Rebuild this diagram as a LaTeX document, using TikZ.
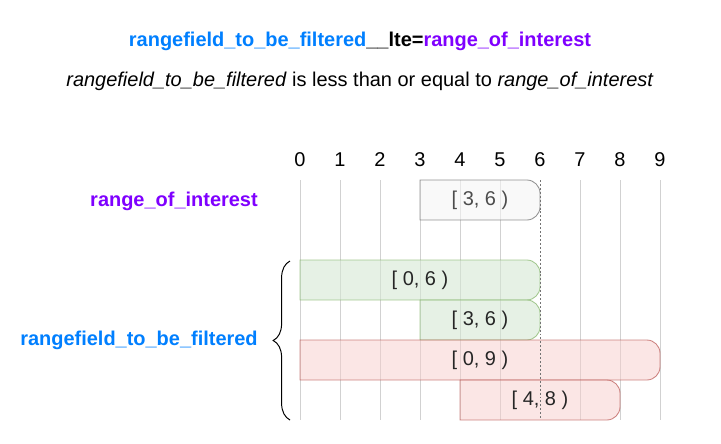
\documentclass[tikz,border=0pt]{standalone}
\usepackage{fontspec}
\setmainfont{Liberation Sans}
\usetikzlibrary{decorations.pathreplacing}
\definecolor{fieldblue}{HTML}{007FFF}
\definecolor{roipurple}{HTML}{7F00FF}
\definecolor{greenfill}{HTML}{D5E8D4}
\definecolor{greenline}{HTML}{82B366}
\definecolor{redfill}{HTML}{F8CECC}
\definecolor{redline}{HTML}{B85450}
\definecolor{grayfill}{HTML}{F5F5F5}
\definecolor{grayline}{HTML}{666666}
\tikzset{
  gridline/.style={draw=black!18,line width=0.6pt},
  greenbar/.style={fill=greenfill,draw=greenline,fill opacity=0.6,draw opacity=0.7,line width=0.6pt},
  redbar/.style={fill=redfill,draw=redline,fill opacity=0.5,draw opacity=0.7,line width=0.6pt},
  graybar/.style={fill=grayfill,draw=grayline,fill opacity=0.6,draw opacity=0.7,line width=0.6pt},
  barlabel/.style={text=black!85},
  tick/.style={text=black}
}
\newcommand{\rbar}[4]{\draw[#1] (#2,#4) -- (#2,#4+1) -- (#3-0.33,#4+1) arc[start angle=90,end angle=0,radius=0.33] -- (#3,#4+0.33) arc[start angle=0,end angle=-90,radius=0.33] -- cycle;}
\begin{document}
\begin{tikzpicture}[font=\fontsize{14.2pt}{17pt}\selectfont]
\useasboundingbox (-7.5,-0.575) rectangle (10.525,10.5);
\node (title) at (1.5,9.475) {\bfseries\textcolor{fieldblue}{rangefield\_to\_be\_filtered}\_\_lte=\textcolor{roipurple}{range\_of\_interest}};
\node (subtitle) at (1.5,8.475) {\textit{rangefield\_to\_be\_filtered} is less than or equal to \textit{range\_of\_interest}};
\node[tick] (n0) at (0,6.5) {0};
\node[tick] (n1) at (1,6.5) {1};
\node[tick] (n2) at (2,6.5) {2};
\node[tick] (n3) at (3,6.5) {3};
\node[tick] (n4) at (4,6.5) {4};
\node[tick] (n5) at (5,6.5) {5};
\node[tick] (n6) at (6,6.5) {6};
\node[tick] (n7) at (7,6.5) {7};
\node[tick] (n8) at (8,6.5) {8};
\node[tick] (n9) at (9,6.5) {9};
\draw[gridline] (0,6) -- (0,0);
\draw[gridline] (1,6) -- (1,0);
\draw[gridline] (2,6) -- (2,0);
\draw[gridline] (3,6) -- (3,0);
\draw[gridline] (4,6) -- (4,0);
\draw[gridline] (5,6) -- (5,0);
\draw[gridline] (7,6) -- (7,0);
\draw[gridline] (8,6) -- (8,0);
\draw[gridline] (9,6) -- (9,0);
\rbar{graybar}{3}{6}{5}
\rbar{greenbar}{0}{6}{3}
\rbar{greenbar}{3}{6}{2}
\rbar{redbar}{0}{9}{1}
\rbar{redbar}{4}{8}{0}
\draw[black!55,line width=0.7pt,dash pattern=on 1.4pt off 1.4pt] (6,6) -- (6,0);
\node[barlabel,text=black!70] (roi) at (4.5,5.5) {[ 3, 6 )};
\node[barlabel] (f1) at (3,3.5) {[ 0, 6 )};
\node[barlabel] (f2) at (4.5,2.5) {[ 3, 6 )};
\node[barlabel] (f3) at (4.5,1.5) {[ 0, 9 )};
\node[barlabel] (f4) at (6,0.5) {[ 4, 8 )};
\node[text=roipurple,font=\fontsize{14.2pt}{17pt}\selectfont\bfseries] (roilabel) at (-3.15,5.475) {range\_of\_interest};
\node[text=fieldblue,font=\fontsize{14.2pt}{17pt}\selectfont\bfseries] (fieldlabel) at (-4.025,2) {rangefield\_to\_be\_filtered};
\coordinate (brbot) at (-0.25,0);
\coordinate (brtop) at (-0.25,3.975);
\draw[decorate,decoration={brace,amplitude=0.42cm},line width=0.7pt] (brbot) -- (brtop);
\end{tikzpicture}
\end{document}
